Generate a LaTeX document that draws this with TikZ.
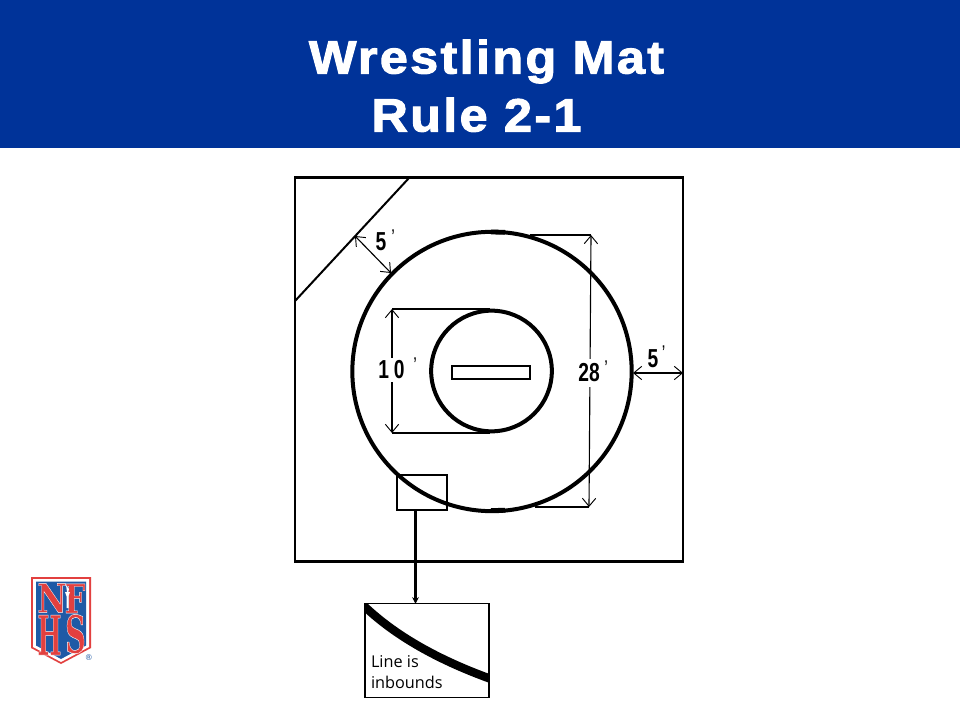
\documentclass[tikz,border=0pt]{standalone}
\usepackage{fontspec}
\usepackage{graphicx}
\setmainfont{Liberation Sans}
\newfontfamily\titlefont[FakeStretch=1.08,LetterSpace=5,FakeBold=2.2]{Liberation Sans Bold}
\newfontfamily\bodyfont{Open Sans}
\newfontfamily\logofont[FakeBold=0.9]{DejaVu Serif Bold}
\newfontfamily\symfont{DejaVu Sans}
\usetikzlibrary{arrows.meta}
\definecolor{hdr}{HTML}{003399}
\definecolor{logored}{HTML}{E2403F}
\definecolor{logoblue}{HTML}{1F5AA6}
\tikzset{
  every node/.style={inner sep=0pt,outer sep=0pt},
  titletext/.style={font=\titlefont\fontsize{35}{35}\selectfont,text=white,anchor=base},
  ring/.style={circle,draw=black,line width=3pt},
  box/.style={rectangle,draw=black},
  dimline/.style={draw=black,line width=0.85pt},
  dimarrow/.style={dimline,{Straight Barb[length=6pt,width=10pt,line width=0.7pt]}-{Straight Barb[length=6pt,width=10pt,line width=0.7pt]}},
  dimtext/.style={font=\fontsize{19.5}{19.5}\selectfont\bfseries},
  primetext/.style={font=\fontsize{16}{16}\selectfont},
  logoletter/.style={font=\logofont,text=logored},
}
\newcommand{\narrowtxt}[1]{\scalebox{0.74}[1]{#1}}
\newcommand{\fitletter}[3]{\resizebox{#1pt}{#2pt}{\special{pdf:code 1 1 1 RG}#3}}
\begin{document}
\begin{tikzpicture}[x=0.75pt,y=-0.75pt]
\useasboundingbox (0,0) rectangle (960,720);
\fill[white] (0,0) rectangle (960,720);
% header
\fill[hdr] (0,0) rectangle (960,148);
\node[titletext] (title1) at (486.5,73.5) {Wrestling Mat};
\node[titletext] (title2) at (476.5,131.5) {Rule 2-1};

% mat
\node[box,line width=1.7pt,minimum width=291pt,minimum height=288pt] (mat) at (489,369.5) {};
\coordinate (diagA) at (409,178);
\coordinate (diagB) at (295,301);
\draw[line width=1.5pt] (diagA) -- (diagB);
\node[ring,minimum size=209.5pt] (outer) at (492,371.5) {};
\node[ring,minimum size=90.5pt] (inner) at (491.5,371) {};
\node[box,line width=1.5pt,minimum width=59pt,minimum height=9.5pt] (start) at (491,372.5) {};
% thick spots on the outer ring
\draw[line width=3.6pt] (491,232) -- (505,232.3);
\draw[line width=3.6pt] (491,510.5) -- (505,510.3);

% 28 ft dimension
\coordinate (t1) at (530,235);
\coordinate (t2) at (591,235);
\coordinate (b1) at (535,507);
\coordinate (b2) at (589,507);
\draw[dimline] (t1) -- (t2);
\draw[dimline] (b1) -- (b2);
\draw[dimarrow] (t2) -- (b2);
\node[dimtext,fill=white,minimum width=20pt,minimum height=21pt] (l28) at (589,372.5) {\narrowtxt{28}};
\node[primetext] (p28) at (606,368) {\narrowtxt{'}};

% 10 ft dimension
\coordinate (u1) at (392,309);
\coordinate (u2) at (490,309);
\coordinate (d1) at (392,433);
\coordinate (d2) at (490,433);
\draw[dimline] (u1) -- (u2);
\draw[dimline] (d1) -- (d2);
\draw[dimarrow] (u1) -- (d1);
\node[dimtext,fill=white,minimum width=23pt,minimum height=18pt] (l10) at (391.5,369.5) {\narrowtxt{1\kern5pt 0}};
\node[primetext] (p10) at (415,365) {\narrowtxt{'}};

% 5 ft dimensions
\coordinate (e1) at (633,373);
\coordinate (e2) at (683,373);
\draw[dimarrow] (e1) -- (e2);
\node[dimtext] (l5a) at (653,358.5) {\narrowtxt{5}};
\node[primetext] (p5a) at (663.5,353) {\narrowtxt{'}};
\coordinate (f1) at (355,236);
\coordinate (f2) at (391,273);
\draw[dimarrow] (f1) -- (f2);
\node[dimtext] (l5b) at (381,241.5) {\narrowtxt{5}};
\node[primetext] (p5b) at (393,237) {\narrowtxt{'}};

% detail
\node[box,line width=0.8pt,minimum width=37.5pt,minimum height=26.25pt] (small) at (422,492.5) {};
\node[box,line width=0.8pt,minimum width=93pt,minimum height=70pt] (detail) at (427,650.5) {};
\draw[line width=1.7pt,-{Stealth[length=5pt,width=5pt]}] (small.south -| 415.5,0) -- (detail.north -| 415.5,0);
\begin{scope}
\clip (detail.north west) rectangle (detail.south east);
\draw[line width=6.3pt] (363,605) .. controls (390,631) and (430,657) .. (491,679);
\end{scope}
\node[font=\bodyfont\fontsize{12.2}{12.2}\selectfont,anchor=base west] (line1) at (371,667) {Line is};
\node[font=\bodyfont\fontsize{12.2}{12.2}\selectfont,anchor=base west] (line2) at (371,688.5) {inbounds};

% logo
\path[fill=logored] (31,577) -- (91,577) -- (91,648) -- (61,664) -- (31,648) -- cycle;
\path[fill=white] (33,579) -- (89,579) -- (89,647) -- (61,662) -- (33,647) -- cycle;
\path[fill=logoblue] (36,581.5) -- (86,581.5) -- (86,645.5) -- (61,659) -- (36,645.5) -- cycle;
\node[logoletter] (logoN) at (52,598) {\fitletter{22}{22}{N}};
\node[logoletter] (logoF) at (75,598.5) {\fitletter{15.5}{22}{F}};
\node[logoletter] (logoH) at (49.5,635) {\fitletter{18}{30}{H}};
\node[logoletter] (logoS) at (75.5,634) {\fitletter{15.5}{29}{S}};
\path[fill=white] (66,585) -- (69,589) -- (68,592) -- (70,592) -- (68.5,596) -- (68.5,608) -- (66.5,608) -- (66.5,596) -- (65,592) -- (67,592) -- cycle;
\node[font=\symfont\fontsize{6}{6}\selectfont,text=logoblue] (reg) at (88.8,657.5) {®};
\end{tikzpicture}
\end{document}
